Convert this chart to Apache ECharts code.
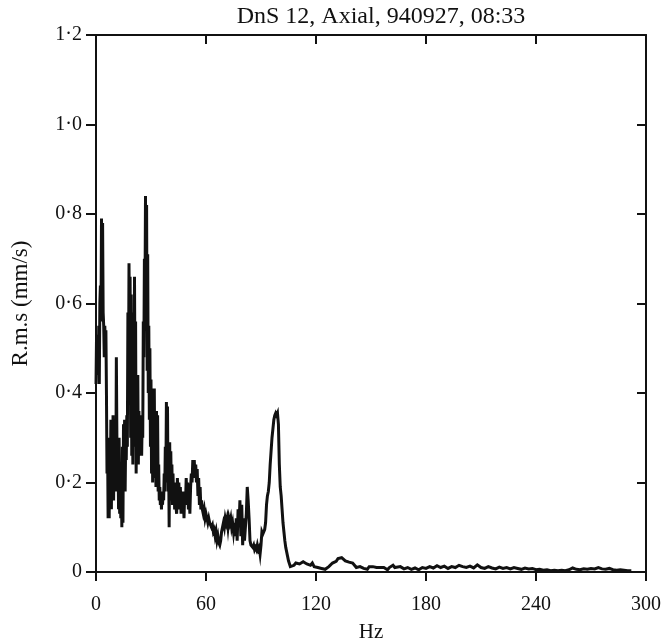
<!DOCTYPE html>
<html>
<head>
<meta charset="utf-8">
<script src="https://cdn.jsdelivr.net/npm/echarts@6/dist/echarts.min.js"></script>
<style>html,body{margin:0;padding:0;background:#fff}#c{width:664px;height:644px}</style>
</head>
<body>
<div id="c"></div>
<script>
var titleText = 'DnS 12, Axial, 940927, 08:33';
var xName = 'Hz';
var yName = 'R.m.s (mm/s)';
var xTicks = [0, 60, 120, 180, 240, 300];
var yTickLabels = ['0', '0·2', '0·4', '0·6', '0·8', '1·0', '1·2'];

var hz = [
0.0,0.3,0.6,0.9,1.2,1.5,1.8,2.1,2.4,2.7,3.0,3.3,3.6,3.9,4.2,4.5,4.8,5.1,5.4,5.7,
6.0,6.3,6.6,6.9,7.2,7.5,7.8,8.1,8.4,8.7,9.0,9.3,9.6,9.9,10.2,10.5,10.8,11.1,11.4,11.7,
12.0,12.3,12.6,12.9,13.2,13.5,13.8,14.1,14.4,14.7,15.0,15.3,15.6,15.9,16.2,16.5,16.8,17.1,17.4,17.7,
18.0,18.3,18.6,18.9,19.2,19.5,19.8,20.1,20.4,20.7,21.0,21.3,21.6,21.9,22.2,22.5,22.8,23.1,23.4,23.7,
24.0,24.3,24.6,24.9,25.2,25.5,25.8,26.1,26.4,26.7,27.0,27.3,27.6,27.9,28.2,28.5,28.8,29.1,29.4,29.7,
30.0,30.3,30.6,30.9,31.2,31.5,31.8,32.1,32.4,32.7,33.0,33.3,33.6,33.9,34.2,34.5,34.8,35.1,35.4,35.7,
36.0,36.3,36.6,36.9,37.2,37.5,37.8,38.1,38.4,38.7,39.0,39.3,39.6,39.9,40.2,40.5,40.8,41.1,41.4,41.7,
42.0,42.3,42.6,42.9,43.2,43.5,44.0,44.4,44.8,45.2,45.6,46.0,46.4,46.8,47.2,47.6,48.0,48.4,48.8,49.2,
49.6,50.0,50.4,50.8,51.2,51.6,52.0,52.4,52.8,53.2,53.6,54.0,54.4,54.8,55.2,55.6,56.0,56.4,56.8,57.2,
57.6,58.0,58.5,59.0,59.5,60.0,60.5,61.0,61.5,62.0,62.5,63.0,63.5,64.0,64.5,65.0,65.5,66.0,66.5,67.0,
67.5,68.0,68.5,69.0,69.5,70.0,70.5,71.0,71.5,72.0,72.5,73.0,73.5,74.0,74.5,75.0,75.5,76.0,76.5,77.0,
77.5,78.0,78.5,79.0,79.5,80.0,80.5,81.0,81.5,82.0,82.5,83.0,83.5,84.0,84.5,85.0,85.5,86.0,86.5,87.0,
87.5,88.0,88.5,89.0,89.5,90.0,90.5,91.0,92.0,92.5,93.0,93.5,94.0,94.5,95.0,95.5,96.0,96.5,97.0,97.5,
98.0,98.5,99.0,99.5,100.0,100.5,101.0,101.5,102.0,102.5,103.0,103.5,104.0,104.5,105.0,106.0,107.0,108.0,109.0,110.0,
111.0,112.0,113.0,114.0,115.0,116.0,117.0,118.0,119.0,120.0,121.0,122.0,123.0,124.0,125.0,126.0,127.0,128.0,129.0,130.0,
131.0,132.0,133.0,134.0,135.0,136.0,137.0,138.0,139.0,140.0,141.0,142.0,143.0,144.0,145.0,146.0,147.0,148.0,149.0,150.0,
151.0,152.0,153.0,154.0,155.0,156.0,157.0,158.0,159.0,160.0,161.0,162.0,163.0,164.0,166.0,168.0,170.0,172.0,174.0,176.0,
178.0,180.0,182.0,184.0,186.0,188.0,190.0,192.0,194.0,196.0,198.0,200.0,202.0,204.0,206.0,208.0,210.0,212.0,214.0,216.0,
218.0,220.0,222.0,224.0,226.0,228.0,230.0,232.0,234.0,236.0,238.0,240.0,242.0,244.0,246.0,248.0,250.0,252.0,254.0,256.0,
258.0,260.0,262.0,264.0,266.0,268.0,270.0,272.0,274.0,276.0,278.0,280.0,282.0,284.0,286.0,288.0,290.0,292.0
];

var rms = [
0.42,0.53,0.45,0.52,0.44,0.55,0.42,0.60,0.64,0.56,0.79,0.62,0.78,0.58,0.55,0.48,0.55,0.50,0.54,0.40,
0.22,0.30,0.12,0.25,0.12,0.30,0.18,0.34,0.14,0.33,0.20,0.35,0.16,0.28,0.22,0.34,0.18,0.48,0.30,0.22,
0.26,0.14,0.30,0.13,0.24,0.12,0.20,0.10,0.28,0.11,0.33,0.22,0.34,0.18,0.30,0.25,0.35,0.28,0.58,0.40,
0.69,0.55,0.66,0.30,0.62,0.26,0.46,0.24,0.58,0.28,0.66,0.40,0.56,0.22,0.40,0.26,0.44,0.24,0.36,0.27,
0.33,0.26,0.35,0.26,0.34,0.30,0.56,0.48,0.70,0.60,0.84,0.58,0.82,0.45,0.71,0.40,0.55,0.34,0.50,0.28,
0.43,0.22,0.41,0.20,0.38,0.26,0.41,0.21,0.32,0.19,0.36,0.24,0.35,0.18,0.24,0.16,0.19,0.15,0.18,0.14,
0.17,0.15,0.18,0.16,0.22,0.18,0.28,0.20,0.38,0.24,0.37,0.18,0.26,0.10,0.29,0.16,0.27,0.18,0.24,0.15,
0.22,0.17,0.19,0.14,0.20,0.15,0.13,0.21,0.15,0.20,0.14,0.19,0.13,0.18,0.14,0.17,0.12,0.18,0.15,0.21,
0.17,0.20,0.14,0.18,0.13,0.19,0.22,0.20,0.25,0.22,0.25,0.21,0.24,0.20,0.23,0.17,0.21,0.15,0.19,0.14,
0.16,0.14,0.13,0.14,0.12,0.13,0.12,0.11,0.12,0.11,0.11,0.10,0.105,0.09,0.095,0.08,0.09,0.07,0.08,0.065,
0.06,0.07,0.09,0.10,0.11,0.10,0.12,0.11,0.12,0.10,0.12,0.11,0.12,0.10,0.11,0.09,0.11,0.08,0.12,0.07,
0.14,0.10,0.16,0.08,0.15,0.06,0.12,0.07,0.10,0.13,0.19,0.16,0.12,0.07,0.06,0.06,0.055,0.06,0.05,0.055,
0.05,0.06,0.05,0.055,0.04,0.06,0.09,0.085,0.095,0.11,0.15,0.17,0.18,0.20,0.24,0.27,0.30,0.32,0.34,0.35,
0.355,0.35,0.355,0.33,0.24,0.19,0.17,0.14,0.11,0.09,0.07,0.055,0.045,0.035,0.025,0.012,0.01,0.015,0.02,0.022,
0.018,0.02,0.023,0.02,0.018,0.02,0.015,0.02,0.012,0.015,0.01,0.012,0.008,0.01,0.006,0.008,0.012,0.015,0.02,0.018,
0.024,0.03,0.034,0.032,0.03,0.025,0.024,0.022,0.024,0.02,0.015,0.01,0.006,0.012,0.01,0.008,0.01,0.006,0.012,0.016,
0.012,0.008,0.01,0.007,0.01,0.014,0.01,0.008,0.005,0.01,0.012,0.015,0.01,0.008,0.012,0.007,0.01,0.006,0.009,0.005,
0.01,0.008,0.012,0.009,0.014,0.01,0.013,0.008,0.012,0.01,0.015,0.012,0.01,0.013,0.009,0.016,0.01,0.008,0.012,0.009,
0.007,0.011,0.008,0.01,0.007,0.01,0.008,0.006,0.009,0.007,0.008,0.005,0.006,0.004,0.005,0.003,0.004,0.003,0.004,0.003,
0.005,0.009,0.006,0.005,0.007,0.006,0.008,0.007,0.01,0.007,0.006,0.008,0.005,0.004,0.005,0.004,0.003,0.003
];

var seriesData = hz.map(function (h, i) { return [h, rms[i]]; });

var FONT = '"Liberation Serif", "DejaVu Serif", serif';
var INK = '#111';
var lineStyle = { color: INK, width: 2 };

var chart = echarts.init(document.getElementById('c'));
chart.setOption({
  backgroundColor: '#fff',
  animation: false,
  title: {
    text: titleText,
    left: 376,
    textAlign: 'center',
    top: 0,
    textStyle: { fontFamily: FONT, fontSize: 24, fontWeight: 'normal', color: INK }
  },
  grid: { left: 96, right: 18, top: 35, bottom: 72, containLabel: false, outerBoundsMode: 'none' },
  xAxis: [{
    type: 'value', position: 'bottom', min: 0, max: 300, interval: 60,
    name: xName, nameLocation: 'middle', nameGap: 50,
    nameTextStyle: { fontFamily: FONT, fontSize: 21, color: INK },
    axisLine: { show: true, onZero: false, lineStyle: lineStyle },
    axisTick: { show: true, inside: false, length: 9, lineStyle: lineStyle },
    axisLabel: { margin: 23, fontFamily: FONT, fontSize: 20, color: INK,
      formatter: function (v) { return xTicks.indexOf(v) >= 0 ? String(v) : ''; } },
    splitLine: { show: false }
  }, {
    type: 'value', position: 'top', min: 0, max: 300, interval: 60,
    axisLine: { show: true, onZero: false, lineStyle: lineStyle },
    axisTick: { show: true, inside: true, length: 9, lineStyle: lineStyle },
    axisLabel: { show: false },
    splitLine: { show: false }
  }],
  yAxis: [{
    type: 'value', position: 'left', min: 0, max: 1.2, interval: 0.2,
    name: yName, nameLocation: 'middle', nameGap: 64, nameRotate: 90,
    nameTextStyle: { fontFamily: FONT, fontSize: 23, color: INK },
    axisLine: { show: true, onZero: false, lineStyle: lineStyle },
    axisTick: { show: true, inside: false, length: 10, lineStyle: lineStyle },
    axisLabel: { margin: 14, fontFamily: FONT, fontSize: 20, color: INK,
      formatter: function (v) { return yTickLabels[Math.round(v / 0.2)]; } },
    splitLine: { show: false }
  }, {
    type: 'value', position: 'right', min: 0, max: 1.2, interval: 0.2,
    axisLine: { show: true, onZero: false, lineStyle: lineStyle },
    axisTick: { show: true, inside: true, length: 9, lineStyle: lineStyle },
    axisLabel: { show: false },
    splitLine: { show: false }
  }],
  series: [{
    type: 'line',
    xAxisIndex: 0, yAxisIndex: 0,
    data: seriesData,
    showSymbol: false,
    symbol: 'none',
    lineStyle: { color: INK, width: 3, join: 'miter' },
    silent: true
  }]
});
</script>
</body>
</html>
